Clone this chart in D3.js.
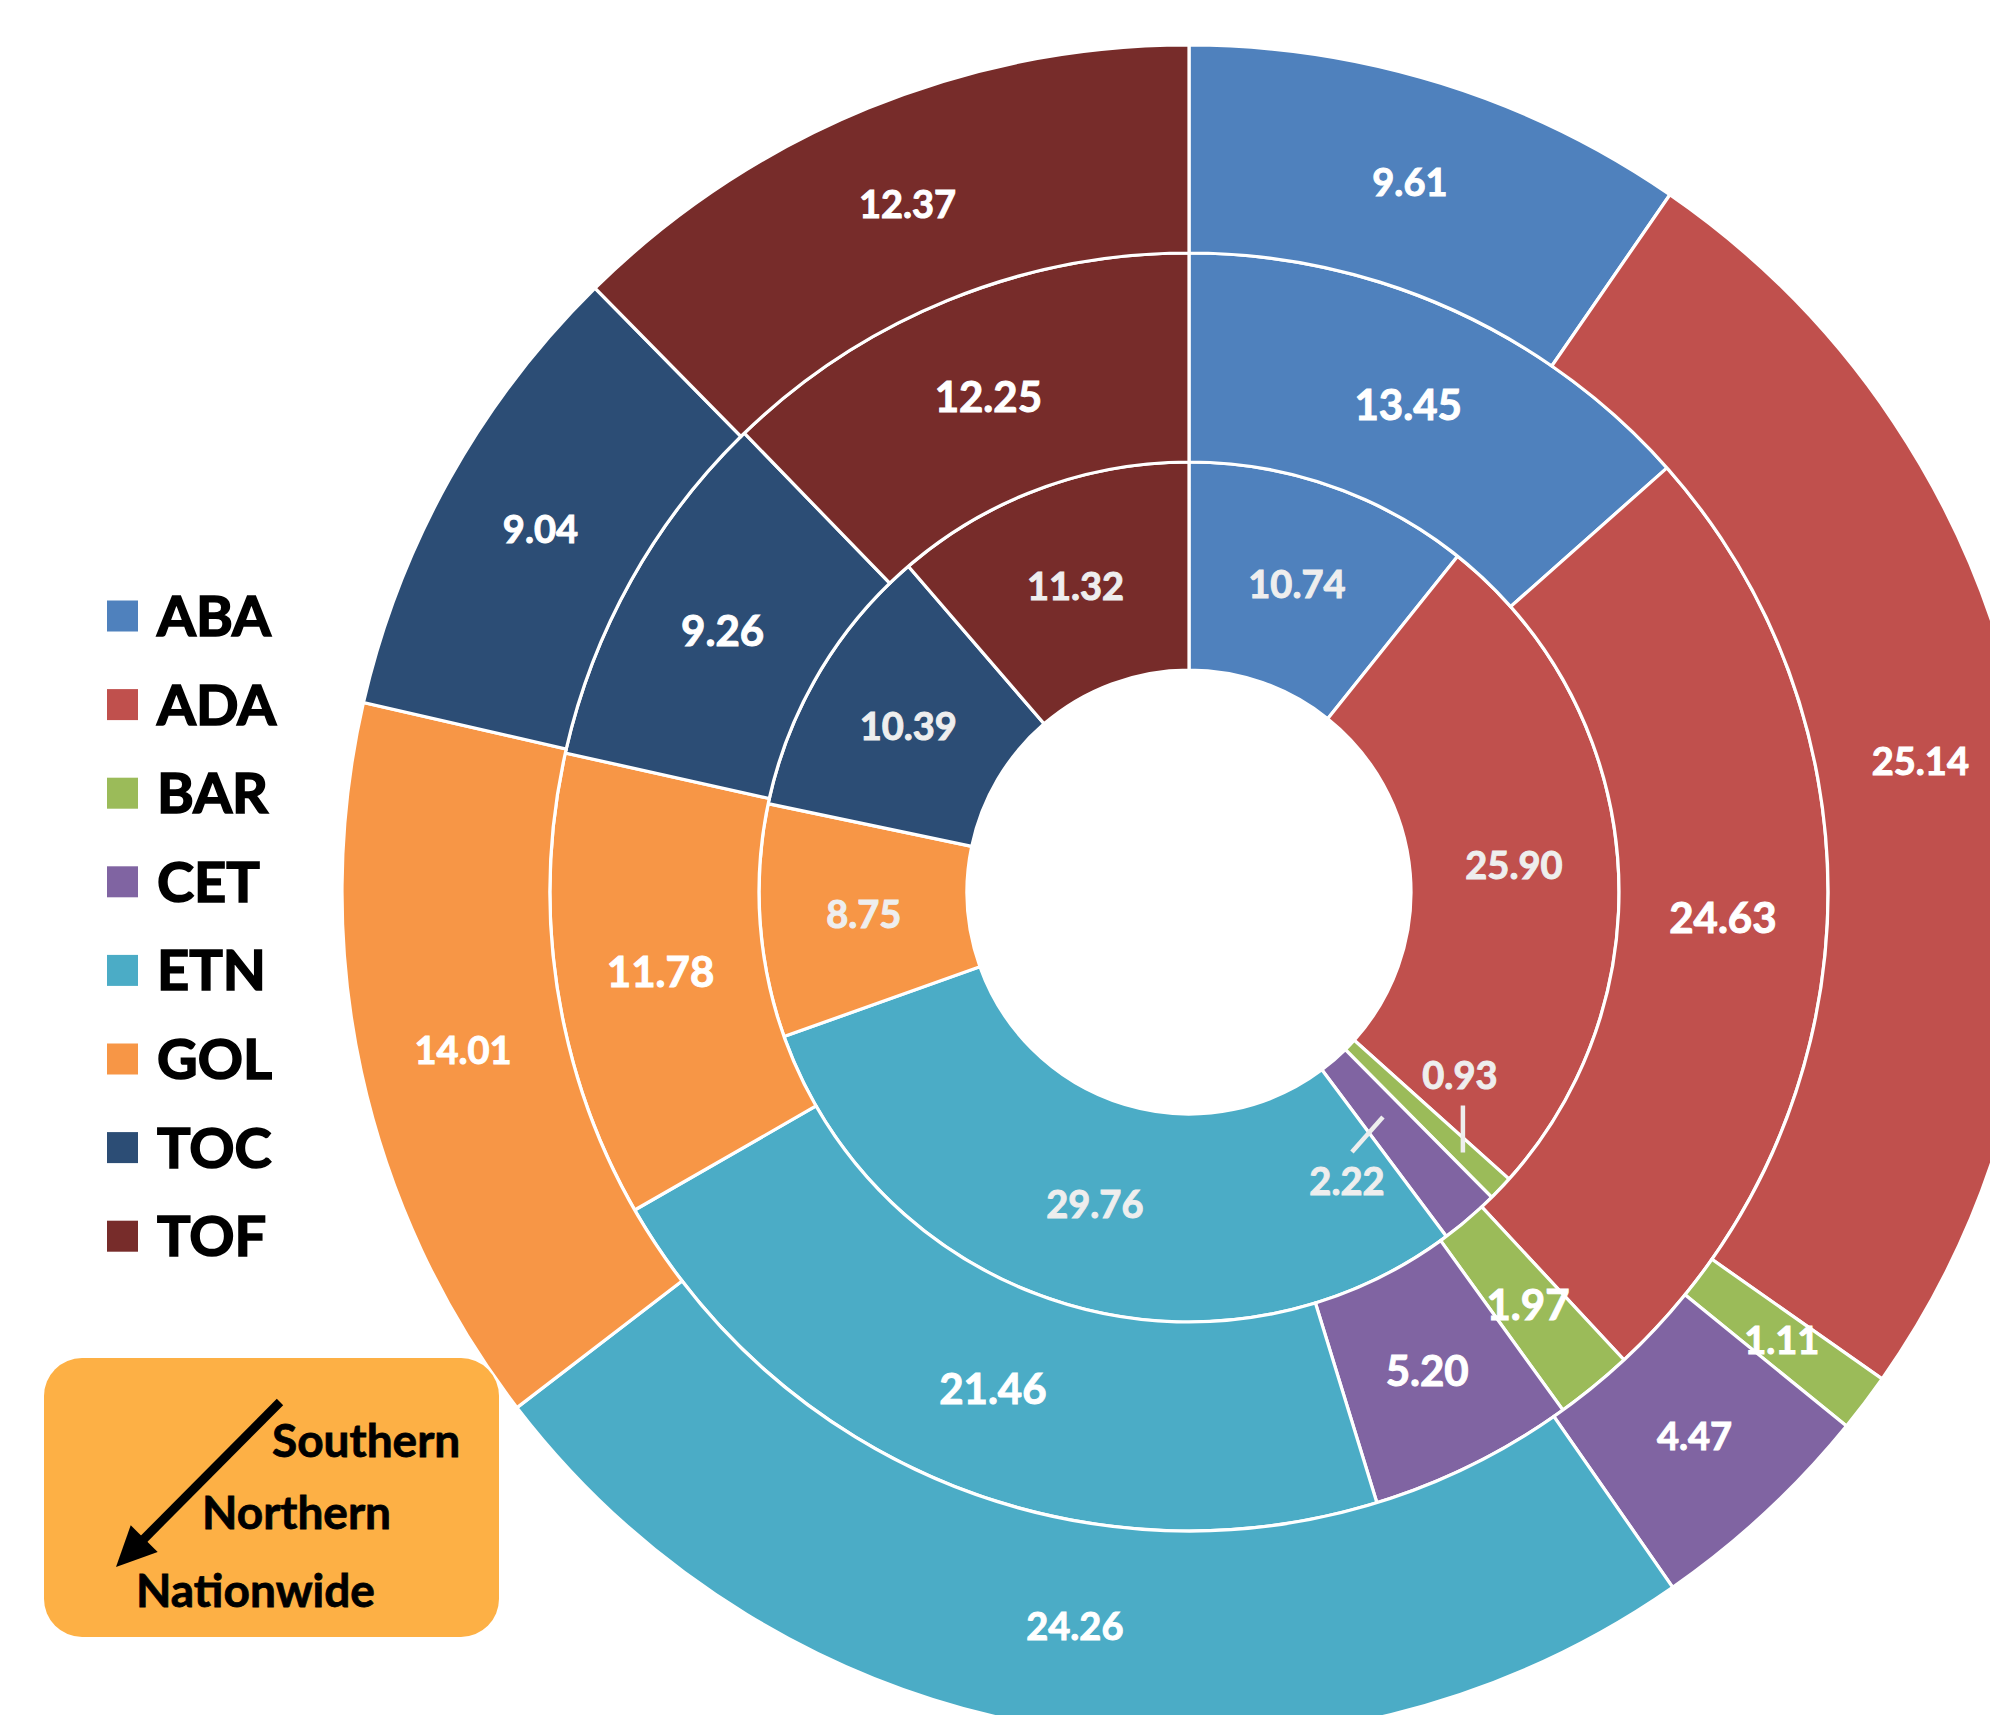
<!DOCTYPE html>
<html><head><meta charset="utf-8">
<script src="https://cdn.jsdelivr.net/npm/d3@7"></script>
<style>body{margin:0;background:#fff;overflow:hidden} svg{display:block}</style>
</head><body><svg id="c" width="1990" height="1715"></svg>
<script>
const categories = ["ABA","ADA","BAR","CET","ETN","GOL","TOC","TOF"];
const colors = ["#4F81BD","#C0504D","#9BBB59","#8064A2","#4BACC6","#F79646","#2C4D75","#772C2A"];
const nationwide = [10.74,25.90,0.93,2.22,29.76,8.75,10.39,11.32];
const northern = [13.45,24.63,1.97,5.20,21.46,11.78,9.26,12.25];
const southern = [9.61,25.14,1.11,4.47,24.26,14.01,9.04,12.37];
const ringNames = ["Southern","Northern","Nationwide"];

const W = 1990, H = 1715;
const cx = 1189, cy = 892;
const rings = [
  {values: nationwide, r0: 222, r1: 430, fs: 38, fill: "#eeeeee"},
  {values: northern,   r0: 430, r1: 639, fs: 42, fill: "#ffffff"},
  {values: southern,   r0: 639, r1: 847, fs: 38, fill: "#ffffff"}
];
const color = d3.scaleOrdinal().domain(categories).range(colors);
const svg = d3.select("#c");
const g = svg.append("g").attr("transform", `translate(${cx},${cy})`);
const pie = d3.pie().sort(null).value(d => d);
const FONT = "Lato, 'Open Sans', sans-serif";

function lbl(sel, x, y, ring, text) {
  sel.append("text").attr("x", x).attr("y", y)
    .attr("text-anchor", "middle").attr("font-family", FONT).attr("font-weight", 700)
    .attr("font-size", ring.fs).attr("fill", ring.fill)
    .attr("stroke", ring.fill).attr("stroke-width", 1).attr("paint-order", "stroke")
    .text(text);
}

rings.forEach((ring, ri) => {
  const arcs = pie(ring.values).map((a, i) => Object.assign(a, {cat: categories[i]}));
  const arc = d3.arc().innerRadius(ring.r0).outerRadius(ring.r1);
  const rg = g.append("g");
  rg.selectAll("path").data(arcs).join("path")
    .attr("d", arc)
    .attr("fill", d => color(d.cat))
    .attr("stroke", "#fff").attr("stroke-width", 3.2).attr("stroke-linejoin", "miter");

  arcs.forEach(d => {
    const mid = (d.startAngle + d.endAngle) / 2;
    const label = d.value.toFixed(2);
    const capH = ring.fs * 0.72;
    if (ri === 0 && d.value < 1.5) {
      const r = 378;
      const px = r * Math.sin(mid), py = -r * Math.cos(mid);
      rg.append("line").attr("x1", px).attr("y1", py).attr("x2", px).attr("y2", py - 47)
        .attr("stroke", ring.fill).attr("stroke-width", 4.5);
      lbl(rg, px - 3, py - 77 + capH / 2, ring, label);
    } else if (ri === 0 && d.value < 3) {
      const r = 297;
      const px = r * Math.sin(mid), py = -r * Math.cos(mid);
      rg.append("line").attr("x1", px).attr("y1", py).attr("x2", px - 31).attr("y2", py + 35)
        .attr("stroke", ring.fill).attr("stroke-width", 4.5);
      lbl(rg, px - 36, py + 64 + capH / 2, ring, label);
    } else {
      const [x, y] = arc.centroid(d);
      lbl(rg, x, y + capH / 2, ring, label);
    }
  });
});

// Legend
const leg = svg.append("g");
categories.forEach((c, i) => {
  const yc = 616 + i * 88.6;
  leg.append("rect").attr("x", 107).attr("y", yc - 15.5).attr("width", 31).attr("height", 31).attr("fill", color(c));
  leg.append("text").attr("x", 157).attr("y", yc + 20).attr("font-family", FONT).attr("font-weight", 700)
    .attr("font-size", 56).attr("fill", "#000").attr("stroke", "#000").attr("stroke-width", 1.6)
    .text(c);
});

// Ring order box
const box = svg.append("g");
box.append("rect").attr("x", 44).attr("y", 1358).attr("width", 455).attr("height", 279).attr("rx", 38)
  .attr("fill", "#FDB045");
const tip = [116, 1567], start = [280, 1402];
const dx = tip[0] - start[0], dy = tip[1] - start[1], L = Math.hypot(dx, dy);
const ux = dx / L, uy = dy / L, headL = 40, headW = 19;
const bx = tip[0] - ux * headL, by = tip[1] - uy * headL;
box.append("line").attr("x1", start[0]).attr("y1", start[1]).attr("x2", bx + ux * 4).attr("y2", by + uy * 4)
  .attr("stroke", "#000").attr("stroke-width", 9);
box.append("path").attr("d", `M${tip[0]},${tip[1]}L${bx - uy * headW},${by + ux * headW}L${bx + uy * headW},${by - ux * headW}Z`)
  .attr("fill", "#000");
const boxText = [[272, 1457], [202, 1529], [136, 1607]];
ringNames.forEach((n, i) => {
  box.append("text").attr("x", boxText[i][0]).attr("y", boxText[i][1]).attr("font-family", FONT)
    .attr("font-weight", 700).attr("font-size", 46).attr("fill", "#000")
    .attr("stroke", "#000").attr("stroke-width", 0.8).text(n);
});
</script></body></html>
